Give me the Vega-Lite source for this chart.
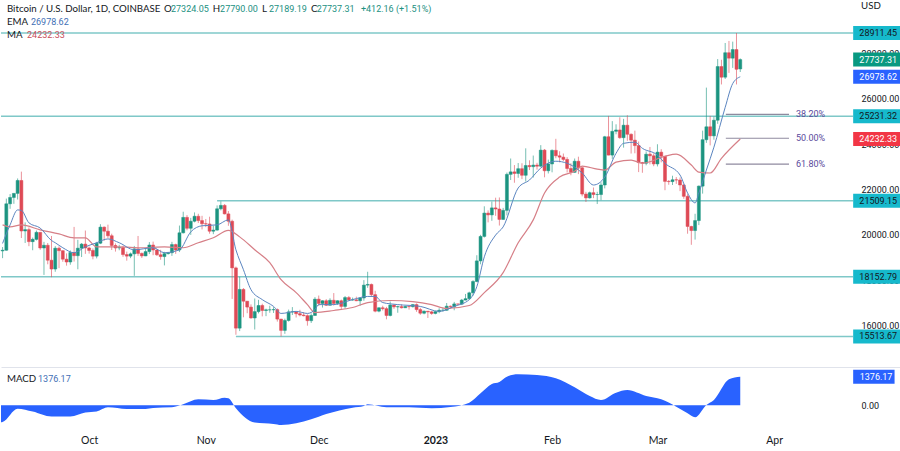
{
"$schema":"https://vega.github.io/schema/vega-lite/v6.json",
"padding":0,"spacing":1,"background":"white",
"config":{"font":"Lato","view":{"stroke":null}},
"datasets":{
"candles":[
{"date":"2022-09-08","o":19290,"h":19460,"l":18970,"c":19320},{"date":"2022-09-09","o":19320,"h":21600,"l":19300,"c":21370},{"date":"2022-09-10","o":21370,"h":21800,"l":21150,"c":21650},{"date":"2022-09-11","o":21650,"h":21830,"l":21370,"c":21830},{"date":"2022-09-12","o":21830,"h":22490,"l":21560,"c":22400},{"date":"2022-09-13","o":22400,"h":22790,"l":19860,"c":20170},{"date":"2022-09-14","o":20170,"h":20550,"l":19640,"c":20230},{"date":"2022-09-15","o":20230,"h":20330,"l":19500,"c":19700},{"date":"2022-09-16","o":19700,"h":19880,"l":19320,"c":19800},{"date":"2022-09-17","o":19800,"h":20190,"l":19750,"c":20110},{"date":"2022-09-18","o":20110,"h":20110,"l":19340,"c":19420},{"date":"2022-09-19","o":19420,"h":19690,"l":18230,"c":19540},{"date":"2022-09-20","o":19540,"h":19640,"l":18700,"c":18880},{"date":"2022-09-21","o":18880,"h":19950,"l":18130,"c":18490},{"date":"2022-09-22","o":18490,"h":19500,"l":18370,"c":19410},{"date":"2022-09-23","o":19410,"h":19490,"l":18530,"c":19300},{"date":"2022-09-24","o":19300,"h":19310,"l":18810,"c":18925},{"date":"2022-09-25","o":18925,"h":19180,"l":18640,"c":18800},{"date":"2022-09-26","o":18800,"h":19310,"l":18680,"c":19220},{"date":"2022-09-27","o":19220,"h":20350,"l":18820,"c":19080},{"date":"2022-09-28","o":19080,"h":19780,"l":18480,"c":19410},{"date":"2022-09-29","o":19410,"h":19640,"l":19020,"c":19590},{"date":"2022-09-30","o":19590,"h":20190,"l":19160,"c":19420},
{"date":"2022-10-01","o":19420,"h":19480,"l":19170,"c":19310},{"date":"2022-10-02","o":19310,"h":19400,"l":18920,"c":19060},{"date":"2022-10-03","o":19060,"h":19690,"l":18960,"c":19630},{"date":"2022-10-04","o":19630,"h":20470,"l":19590,"c":20340},{"date":"2022-10-05","o":20340,"h":20370,"l":19740,"c":20160},{"date":"2022-10-06","o":20160,"h":20450,"l":19860,"c":19960},{"date":"2022-10-07","o":19960,"h":20050,"l":19330,"c":19530},{"date":"2022-10-08","o":19530,"h":19620,"l":19260,"c":19420},{"date":"2022-10-09","o":19420,"h":19560,"l":19320,"c":19440},{"date":"2022-10-10","o":19440,"h":19520,"l":19030,"c":19130},{"date":"2022-10-11","o":19130,"h":19260,"l":18860,"c":19060},{"date":"2022-10-12","o":19060,"h":19220,"l":18970,"c":19160},{"date":"2022-10-13","o":19160,"h":19510,"l":18190,"c":19380},{"date":"2022-10-14","o":19380,"h":19950,"l":19070,"c":19180},{"date":"2022-10-15","o":19180,"h":19220,"l":18980,"c":19070},{"date":"2022-10-16","o":19070,"h":19420,"l":19060,"c":19260},{"date":"2022-10-17","o":19260,"h":19680,"l":19150,"c":19550},{"date":"2022-10-18","o":19550,"h":19700,"l":19100,"c":19330},{"date":"2022-10-19","o":19330,"h":19360,"l":19070,"c":19120},{"date":"2022-10-20","o":19120,"h":19340,"l":18900,"c":19040},{"date":"2022-10-21","o":19040,"h":19250,"l":18650,"c":19170},{"date":"2022-10-22","o":19170,"h":19250,"l":19130,"c":19210},{"date":"2022-10-23","o":19210,"h":19690,"l":19070,"c":19570},{"date":"2022-10-24","o":19570,"h":19610,"l":19160,"c":19330},{"date":"2022-10-25","o":19330,"h":20410,"l":19240,"c":20090},{"date":"2022-10-26","o":20090,"h":21020,"l":20060,"c":20770},{"date":"2022-10-27","o":20770,"h":20870,"l":20200,"c":20290},{"date":"2022-10-28","o":20290,"h":20750,"l":20000,"c":20600},{"date":"2022-10-29","o":20600,"h":20990,"l":20550,"c":20820},{"date":"2022-10-30","o":20820,"h":20930,"l":20520,"c":20630},{"date":"2022-10-31","o":20630,"h":20840,"l":20240,"c":20490},
{"date":"2022-11-01","o":20490,"h":20700,"l":20340,"c":20480},{"date":"2022-11-02","o":20480,"h":20800,"l":20050,"c":20160},{"date":"2022-11-03","o":20160,"h":20400,"l":20030,"c":20210},{"date":"2022-11-04","o":20210,"h":21300,"l":20180,"c":21150},{"date":"2022-11-05","o":21150,"h":21480,"l":21080,"c":21300},{"date":"2022-11-06","o":21300,"h":21360,"l":20900,"c":20925},{"date":"2022-11-07","o":20925,"h":21050,"l":20400,"c":20600},{"date":"2022-11-08","o":20600,"h":20670,"l":17170,"c":18540},{"date":"2022-11-09","o":18540,"h":18600,"l":15590,"c":15880},{"date":"2022-11-10","o":15880,"h":18150,"l":15750,"c":17590},{"date":"2022-11-11","o":17590,"h":17650,"l":16360,"c":17070},{"date":"2022-11-12","o":17070,"h":17070,"l":16540,"c":16810},{"date":"2022-11-13","o":16810,"h":16930,"l":16300,"c":16330},{"date":"2022-11-14","o":16330,"h":17190,"l":15820,"c":16610},{"date":"2022-11-15","o":16610,"h":17130,"l":16530,"c":16880},{"date":"2022-11-16","o":16880,"h":16960,"l":16400,"c":16660},{"date":"2022-11-17","o":16660,"h":16740,"l":16410,"c":16690},{"date":"2022-11-18","o":16690,"h":16870,"l":16560,"c":16690},{"date":"2022-11-19","o":16690,"h":16810,"l":16550,"c":16700},{"date":"2022-11-20","o":16700,"h":16750,"l":16170,"c":16280},{"date":"2022-11-21","o":16280,"h":16290,"l":15514,"c":15780},{"date":"2022-11-22","o":15780,"h":16300,"l":15630,"c":16220},{"date":"2022-11-23","o":16220,"h":16700,"l":16170,"c":16600},{"date":"2022-11-24","o":16600,"h":16810,"l":16460,"c":16600},{"date":"2022-11-25","o":16600,"h":16600,"l":16350,"c":16520},{"date":"2022-11-26","o":16520,"h":16690,"l":16400,"c":16460},{"date":"2022-11-27","o":16460,"h":16590,"l":16400,"c":16430},{"date":"2022-11-28","o":16430,"h":16490,"l":15990,"c":16210},{"date":"2022-11-29","o":16210,"h":16530,"l":16110,"c":16440},{"date":"2022-11-30","o":16440,"h":17250,"l":16430,"c":17160},
{"date":"2022-12-01","o":17160,"h":17320,"l":16860,"c":16970},{"date":"2022-12-02","o":16970,"h":17110,"l":16790,"c":17090},{"date":"2022-12-03","o":17090,"h":17160,"l":16860,"c":16890},{"date":"2022-12-04","o":16890,"h":17200,"l":16880,"c":17110},{"date":"2022-12-05","o":17110,"h":17430,"l":16880,"c":16970},{"date":"2022-12-06","o":16970,"h":17110,"l":16910,"c":17090},{"date":"2022-12-07","o":17090,"h":17140,"l":16680,"c":16840},{"date":"2022-12-08","o":16840,"h":17300,"l":16740,"c":17230},{"date":"2022-12-09","o":17230,"h":17300,"l":17100,"c":17130},{"date":"2022-12-10","o":17130,"h":17230,"l":17090,"c":17130},{"date":"2022-12-11","o":17130,"h":17270,"l":17070,"c":17090},{"date":"2022-12-12","o":17090,"h":17240,"l":16870,"c":17210},{"date":"2022-12-13","o":17210,"h":18000,"l":17090,"c":17780},{"date":"2022-12-14","o":17780,"h":18370,"l":17660,"c":17810},{"date":"2022-12-15","o":17810,"h":17850,"l":17280,"c":17360},{"date":"2022-12-16","o":17360,"h":17530,"l":16580,"c":16630},{"date":"2022-12-17","o":16630,"h":16800,"l":16580,"c":16780},{"date":"2022-12-18","o":16780,"h":16870,"l":16660,"c":16740},{"date":"2022-12-19","o":16740,"h":16820,"l":16270,"c":16440},{"date":"2022-12-20","o":16440,"h":17060,"l":16400,"c":16900},{"date":"2022-12-21","o":16900,"h":16910,"l":16730,"c":16820},{"date":"2022-12-22","o":16820,"h":16870,"l":16560,"c":16830},{"date":"2022-12-23","o":16830,"h":16930,"l":16750,"c":16780},{"date":"2022-12-24","o":16780,"h":16860,"l":16770,"c":16840},{"date":"2022-12-25","o":16840,"h":16860,"l":16700,"c":16830},{"date":"2022-12-26","o":16830,"h":16940,"l":16790,"c":16920},{"date":"2022-12-27","o":16920,"h":16970,"l":16600,"c":16700},{"date":"2022-12-28","o":16700,"h":16780,"l":16470,"c":16540},{"date":"2022-12-29","o":16540,"h":16660,"l":16490,"c":16630},{"date":"2022-12-30","o":16630,"h":16630,"l":16330,"c":16600},{"date":"2022-12-31","o":16600,"h":16640,"l":16470,"c":16530},
{"date":"2023-01-01","o":16530,"h":16630,"l":16490,"c":16610},{"date":"2023-01-02","o":16610,"h":16760,"l":16540,"c":16670},{"date":"2023-01-03","o":16670,"h":16770,"l":16610,"c":16670},{"date":"2023-01-04","o":16670,"h":16990,"l":16650,"c":16850},{"date":"2023-01-05","o":16850,"h":16880,"l":16750,"c":16830},{"date":"2023-01-06","o":16830,"h":17040,"l":16670,"c":16950},{"date":"2023-01-07","o":16950,"h":16950,"l":16910,"c":16940},{"date":"2023-01-08","o":16940,"h":17170,"l":16910,"c":17120},{"date":"2023-01-09","o":17120,"h":17390,"l":17110,"c":17180},{"date":"2023-01-10","o":17180,"h":17490,"l":17140,"c":17440},{"date":"2023-01-11","o":17440,"h":18000,"l":17320,"c":17940},{"date":"2023-01-12","o":17940,"h":19100,"l":17910,"c":18850},{"date":"2023-01-13","o":18850,"h":20000,"l":18700,"c":19930},{"date":"2023-01-14","o":19930,"h":21260,"l":19880,"c":20960},{"date":"2023-01-15","o":20960,"h":21080,"l":20550,"c":20880},{"date":"2023-01-16","o":20880,"h":21470,"l":20620,"c":21190},{"date":"2023-01-17","o":21190,"h":21640,"l":20840,"c":21140},{"date":"2023-01-18","o":21140,"h":21650,"l":20410,"c":20680},{"date":"2023-01-19","o":20680,"h":21190,"l":20660,"c":21080},{"date":"2023-01-20","o":21080,"h":22750,"l":20860,"c":22670},{"date":"2023-01-21","o":22670,"h":23370,"l":22420,"c":22780},{"date":"2023-01-22","o":22780,"h":23080,"l":22300,"c":22710},{"date":"2023-01-23","o":22710,"h":23170,"l":22520,"c":22920},{"date":"2023-01-24","o":22920,"h":23160,"l":22460,"c":22630},{"date":"2023-01-25","o":22630,"h":23820,"l":22350,"c":23060},{"date":"2023-01-26","o":23060,"h":23290,"l":22860,"c":23010},{"date":"2023-01-27","o":23010,"h":23500,"l":22530,"c":23080},{"date":"2023-01-28","o":23080,"h":23180,"l":22880,"c":23030},{"date":"2023-01-29","o":23030,"h":23960,"l":23000,"c":23740},{"date":"2023-01-30","o":23740,"h":23790,"l":22540,"c":22830},{"date":"2023-01-31","o":22830,"h":23320,"l":22710,"c":23130},
{"date":"2023-02-01","o":23130,"h":23770,"l":22760,"c":23730},{"date":"2023-02-02","o":23730,"h":24240,"l":23380,"c":23490},{"date":"2023-02-03","o":23490,"h":23690,"l":23200,"c":23430},{"date":"2023-02-04","o":23430,"h":23590,"l":23260,"c":23330},{"date":"2023-02-05","o":23330,"h":23430,"l":22750,"c":22930},{"date":"2023-02-06","o":22930,"h":23160,"l":22630,"c":22760},{"date":"2023-02-07","o":22760,"h":23370,"l":22740,"c":23250},{"date":"2023-02-08","o":23250,"h":23450,"l":22680,"c":22960},{"date":"2023-02-09","o":22960,"h":23010,"l":21700,"c":21800},{"date":"2023-02-10","o":21800,"h":21900,"l":21450,"c":21630},{"date":"2023-02-11","o":21630,"h":21910,"l":21600,"c":21860},{"date":"2023-02-12","o":21860,"h":22090,"l":21620,"c":21780},{"date":"2023-02-13","o":21780,"h":21900,"l":21360,"c":21780},{"date":"2023-02-14","o":21780,"h":22320,"l":21530,"c":22200},{"date":"2023-02-15","o":22200,"h":24370,"l":22050,"c":24330},{"date":"2023-02-16","o":24330,"h":25250,"l":23510,"c":23520},{"date":"2023-02-17","o":23520,"h":25020,"l":23350,"c":24570},{"date":"2023-02-18","o":24570,"h":24880,"l":24440,"c":24630},{"date":"2023-02-19","o":24630,"h":25190,"l":24240,"c":24290},{"date":"2023-02-20","o":24290,"h":25120,"l":23850,"c":24840},{"date":"2023-02-21","o":24840,"h":25280,"l":24150,"c":24440},{"date":"2023-02-22","o":24440,"h":24480,"l":23590,"c":24180},{"date":"2023-02-23","o":24180,"h":24600,"l":23600,"c":23940},{"date":"2023-02-24","o":23940,"h":24120,"l":22770,"c":23190},{"date":"2023-02-25","o":23190,"h":23220,"l":22740,"c":23160},{"date":"2023-02-26","o":23160,"h":23680,"l":23070,"c":23560},{"date":"2023-02-27","o":23560,"h":23880,"l":23110,"c":23490},{"date":"2023-02-28","o":23490,"h":23600,"l":23030,"c":23130},
{"date":"2023-03-01","o":23130,"h":24000,"l":23020,"c":23650},{"date":"2023-03-02","o":23650,"h":23780,"l":23200,"c":23470},{"date":"2023-03-03","o":23470,"h":23480,"l":21970,"c":22360},{"date":"2023-03-04","o":22360,"h":22420,"l":22210,"c":22350},{"date":"2023-03-05","o":22350,"h":22610,"l":22200,"c":22430},{"date":"2023-03-06","o":22430,"h":22550,"l":22250,"c":22420},{"date":"2023-03-07","o":22420,"h":22530,"l":21930,"c":22200},{"date":"2023-03-08","o":22200,"h":22260,"l":21590,"c":21700},{"date":"2023-03-09","o":21700,"h":21800,"l":20050,"c":20370},{"date":"2023-03-10","o":20370,"h":20400,"l":19560,"c":20190},{"date":"2023-03-11","o":20190,"h":20930,"l":19790,"c":20630},{"date":"2023-03-12","o":20630,"h":22180,"l":20430,"c":22150},{"date":"2023-03-13","o":22150,"h":24600,"l":21820,"c":24200},{"date":"2023-03-14","o":24200,"h":26500,"l":24060,"c":24770},{"date":"2023-03-15","o":24770,"h":25250,"l":23950,"c":24370},{"date":"2023-03-16","o":24370,"h":25220,"l":24200,"c":25060},{"date":"2023-03-17","o":25060,"h":27760,"l":24900,"c":27430},{"date":"2023-03-18","o":27430,"h":27730,"l":26640,"c":26960},{"date":"2023-03-19","o":26960,"h":28470,"l":26880,"c":28040},{"date":"2023-03-20","o":28040,"h":28560,"l":27150,"c":27800},{"date":"2023-03-21","o":27800,"h":28530,"l":27370,"c":28180},{"date":"2023-03-22","o":28180,"h":28911,"l":26640,"c":27310},{"date":"2023-03-23","o":27324,"h":27790,"l":27189,"c":27737}
],
"ema":[
{"date":"2022-09-08","v":19620},{"date":"2022-09-10","v":20440},{"date":"2022-09-12","v":21100},{"date":"2022-09-13","v":21080},{"date":"2022-09-15","v":20530},{"date":"2022-09-18","v":20300},{"date":"2022-09-21","v":19750},{"date":"2022-09-22","v":19650},{"date":"2022-09-24","v":19430},{"date":"2022-09-27","v":19210},{"date":"2022-09-30","v":19470},{"date":"2022-10-03","v":19650},{"date":"2022-10-06","v":19820},{"date":"2022-10-09","v":19650},{"date":"2022-10-13","v":19340},{"date":"2022-10-18","v":19430},{"date":"2022-10-21","v":19210},{"date":"2022-10-25","v":19340},{"date":"2022-10-28","v":20130},{"date":"2022-10-31","v":20400},{"date":"2022-11-04","v":20440},{"date":"2022-11-07","v":20660},{"date":"2022-11-09","v":19340},{"date":"2022-11-11","v":18460},{"date":"2022-11-13","v":17580},{"date":"2022-11-16","v":17140},{"date":"2022-11-19","v":16840},{"date":"2022-11-21","v":16530},{"date":"2022-11-25","v":16620},{"date":"2022-11-28","v":16530},{"date":"2022-11-30","v":16700},{"date":"2022-12-01","v":16920},{"date":"2022-12-05","v":16920},{"date":"2022-12-10","v":17140},{"date":"2022-12-14","v":17280},{"date":"2022-12-16","v":17280},{"date":"2022-12-18","v":17010},{"date":"2022-12-22","v":16920},{"date":"2022-12-28","v":16840},{"date":"2023-01-02","v":16620},{"date":"2023-01-06","v":16840},{"date":"2023-01-10","v":17140},{"date":"2023-01-12","v":17710},{"date":"2023-01-14","v":19030},{"date":"2023-01-17","v":19990},{"date":"2023-01-19","v":20350},{"date":"2023-01-23","v":22070},{"date":"2023-01-26","v":22420},{"date":"2023-01-29","v":22950},{"date":"2023-02-02","v":23250},{"date":"2023-02-05","v":23160},{"date":"2023-02-09","v":22730},{"date":"2023-02-12","v":22200},{"date":"2023-02-15","v":22550},{"date":"2023-02-18","v":23600},{"date":"2023-02-20","v":24040},{"date":"2023-02-23","v":24090},{"date":"2023-02-25","v":23820},{"date":"2023-03-01","v":23520},{"date":"2023-03-03","v":23160},{"date":"2023-03-07","v":22640},{"date":"2023-03-09","v":21850},{"date":"2023-03-11","v":21410},{"date":"2023-03-12","v":21850},{"date":"2023-03-14","v":22860},{"date":"2023-03-16","v":23870},{"date":"2023-03-19","v":25630},{"date":"2023-03-21","v":26680},{"date":"2023-03-23","v":26978.62}
],
"ma":[
{"date":"2022-09-08","v":20440},{"date":"2022-09-10","v":20350},{"date":"2022-09-13","v":20440},{"date":"2022-09-18","v":20220},{"date":"2022-09-23","v":20040},{"date":"2022-09-27","v":19870},{"date":"2022-09-30","v":19870},{"date":"2022-10-03","v":19470},{"date":"2022-10-09","v":19470},{"date":"2022-10-15","v":19430},{"date":"2022-10-21","v":19470},{"date":"2022-10-26","v":19430},{"date":"2022-10-30","v":19650},{"date":"2022-11-03","v":19870},{"date":"2022-11-07","v":20200},{"date":"2022-11-10","v":19910},{"date":"2022-11-14","v":19340},{"date":"2022-11-18","v":18770},{"date":"2022-11-21","v":18020},{"date":"2022-11-25","v":17450},{"date":"2022-11-28","v":16920},{"date":"2022-11-30","v":16570},{"date":"2022-12-05","v":16660},{"date":"2022-12-10","v":16790},{"date":"2022-12-14","v":17010},{"date":"2022-12-20","v":17100},{"date":"2022-12-26","v":17050},{"date":"2022-12-31","v":16920},{"date":"2023-01-04","v":16750},{"date":"2023-01-10","v":16880},{"date":"2023-01-14","v":17450},{"date":"2023-01-19","v":18330},{"date":"2023-01-23","v":19650},{"date":"2023-01-27","v":20660},{"date":"2023-01-30","v":21850},{"date":"2023-02-03","v":22550},{"date":"2023-02-07","v":22810},{"date":"2023-02-09","v":23030},{"date":"2023-02-13","v":22900},{"date":"2023-02-15","v":22860},{"date":"2023-02-18","v":23210},{"date":"2023-02-22","v":23300},{"date":"2023-02-25","v":23160},{"date":"2023-03-03","v":23470},{"date":"2023-03-06","v":23560},{"date":"2023-03-10","v":23080},{"date":"2023-03-12","v":22770},{"date":"2023-03-15","v":22730},{"date":"2023-03-18","v":23380},{"date":"2023-03-23","v":24232.33}
],
"macd":[
{"date":"2022-09-07T14:00Z","v":-816},{"date":"2022-09-08","v":-800},{"date":"2022-09-12","v":-160},{"date":"2022-09-16","v":-300},{"date":"2022-09-21","v":-540},{"date":"2022-09-26","v":-540},{"date":"2022-09-30","v":-350},{"date":"2022-10-03","v":-300},{"date":"2022-10-06","v":-96},{"date":"2022-10-11","v":-176},{"date":"2022-10-16","v":-176},{"date":"2022-10-18","v":-128},{"date":"2022-10-23","v":-96},{"date":"2022-10-26","v":48},{"date":"2022-10-30","v":288},{"date":"2022-11-03","v":256},{"date":"2022-11-06","v":368},{"date":"2022-11-07","v":336},{"date":"2022-11-09","v":-144},{"date":"2022-11-14","v":-832},{"date":"2022-11-19","v":-896},{"date":"2022-11-21","v":-944},{"date":"2022-11-29","v":-672},{"date":"2022-12-03","v":-416},{"date":"2022-12-10","v":-112},{"date":"2022-12-13","v":-32},{"date":"2022-12-14","v":48},{"date":"2022-12-19","v":-96},{"date":"2022-12-25","v":-96},{"date":"2022-12-31","v":-144},{"date":"2023-01-05","v":-80},{"date":"2023-01-10","v":128},{"date":"2023-01-13","v":576},{"date":"2023-01-16","v":1024},{"date":"2023-01-18","v":1120},{"date":"2023-01-20","v":1376},{"date":"2023-01-23","v":1488},{"date":"2023-01-28","v":1456},{"date":"2023-02-02","v":1296},{"date":"2023-02-07","v":864},{"date":"2023-02-11","v":448},{"date":"2023-02-14","v":256},{"date":"2023-02-18","v":608},{"date":"2023-02-21","v":736},{"date":"2023-02-26","v":448},{"date":"2023-03-02","v":288},{"date":"2023-03-06","v":-64},{"date":"2023-03-09","v":-384},{"date":"2023-03-11","v":-576},{"date":"2023-03-14","v":16},{"date":"2023-03-16","v":256},{"date":"2023-03-20","v":1248},{"date":"2023-03-23","v":1376.17}
],
"levels":[
{"date":"2022-09-07T14:00Z","end":"2023-04-22","price":28911.45},{"date":"2022-09-07T14:00Z","end":"2023-04-22","price":25231.32},{"date":"2022-11-04","end":"2023-04-22","price":21509.15},{"date":"2022-09-07T14:00Z","end":"2023-04-22","price":18152.79},{"date":"2022-11-09","end":"2023-04-22","price":15513.67}
],
"fibs":[
{"date":"2023-03-19T04:00Z","end":"2023-04-04T23:00Z","price":25319},{"date":"2023-03-19T04:00Z","end":"2023-04-04T23:00Z","price":24264},{"date":"2023-03-19T04:00Z","end":"2023-04-04T23:00Z","price":23121}
],
"tags":[
{"date":"2023-04-22","end":"2023-05-05","price":28911.45,"kind":"teal","ink":"dark","labelDate":"2023-04-28T16:00Z","label":"28911.45"},{"date":"2023-04-22","end":"2023-05-05","price":27737.31,"kind":"green","ink":"white","labelDate":"2023-04-28T16:00Z","label":"27737.31"},{"date":"2023-04-22","end":"2023-05-05","price":26978.62,"kind":"blue","ink":"white","labelDate":"2023-04-28T16:00Z","label":"26978.62"},{"date":"2023-04-22","end":"2023-05-05","price":25231.32,"kind":"teal","ink":"dark","labelDate":"2023-04-28T16:00Z","label":"25231.32"},{"date":"2023-04-22","end":"2023-05-05","price":24232.33,"kind":"red","ink":"white","labelDate":"2023-04-28T16:00Z","label":"24232.33"},{"date":"2023-04-22","end":"2023-05-05","price":21509.15,"kind":"teal","ink":"dark","labelDate":"2023-04-28T16:00Z","label":"21509.15"},{"date":"2023-04-22","end":"2023-05-05","price":18152.79,"kind":"teal","ink":"dark","labelDate":"2023-04-28T16:00Z","label":"18152.79"},{"date":"2023-04-22","end":"2023-05-05","price":15513.67,"kind":"teal","ink":"dark","labelDate":"2023-04-28T16:00Z","label":"15513.67"}
],
"labels":[
{"date":"2022-09-09T04:00Z","price":29978,"kind":"dark","label":"Bitcoin / U.S. Dollar, 1D, COINBASE"},
{"date":"2022-10-20T21:00Z","price":29978,"kind":"dark","label":"O"},{"date":"2022-10-22T18:00Z","price":29978,"kind":"value","label":"27324.05"},
{"date":"2022-11-02T21:00Z","price":29978,"kind":"dark","label":"H"},{"date":"2022-11-04T19:00Z","price":29978,"kind":"value","label":"27790.00"},
{"date":"2022-11-15T22:00Z","price":29978,"kind":"dark","label":"L"},{"date":"2022-11-17T19:00Z","price":29978,"kind":"value","label":"27189.19"},
{"date":"2022-11-28T23:00Z","price":29978,"kind":"dark","label":"C"},{"date":"2022-11-30T12:00Z","price":29978,"kind":"value","label":"27737.31"},
{"date":"2022-12-12T05:00Z","price":29978,"kind":"value","label":"+412.16 (+1.51%)"},
{"date":"2022-09-09T04:00Z","price":29407,"kind":"dark","label":"EMA"},{"date":"2022-09-15T13:00Z","price":29407,"kind":"blueText","label":"26978.62"},
{"date":"2022-09-09T04:00Z","price":28835,"kind":"dark","label":"MA"},{"date":"2022-09-14T12:00Z","price":28835,"kind":"redText","label":"24232.33"},
{"date":"2023-04-24T02:00Z","price":30090,"kind":"dark","label":"USD"},
{"date":"2023-04-06T19:00Z","price":25319,"kind":"purple","label":"38.20%"},{"date":"2023-04-06T19:00Z","price":24264,"kind":"purple","label":"50.00%"},{"date":"2023-04-06T19:00Z","price":23121,"kind":"purple","label":"61.80%"}
],
"macdLabels":[
{"date":"2022-09-09T04:00Z","v":1246,"kind":"dark","label":"MACD"},{"date":"2022-09-17T10:00Z","v":1246,"kind":"blueText","label":"1376.17"}
],
"macdTag":[
{"date":"2023-04-22","end":"2023-05-03","v":1376.17,"labelDate":"2023-04-28T02:00Z","label":"1376.17"}
]
},
"vconcat":[
{"width":900,"height":367,
"encoding":{"x":{"field":"date","type":"temporal","title":null,
"scale":{"type":"utc","nice":false,"padding":0,"domain":[{"year":2022,"month":9,"date":7,"hours":14,"utc":true},{"year":2023,"month":5,"date":4,"hours":17,"utc":true}]},
"axis":{"labels":false,"ticks":false,"grid":false,"title":null,"domain":true,"domainColor":"#e0e3eb"}}},
"layer":[
{"data":{"name":"levels"},"mark":{"type":"rule","color":"#7fc8c8","strokeWidth":1.5},
"encoding":{"x2":{"field":"end"},"y":{"field":"price","type":"quantitative","title":null,
"scale":{"domain":[14165,30368],"nice":false,"zero":false},
"axis":{"orient":"right","offset":-40,"values":[16000,18000,20000,22000,24000,26000,28000],"labelExpr":"format(datum.value,'.2f')","labelOverlap":false,"labelFlush":false,"grid":false,"domain":false,"ticks":false,"title":null,"labelPadding":0,"labelAlign":"left","labelColor":"#131722","labelFontSize":9,"labelFont":"Roboto"}}}},
{"data":{"name":"candles"},"mark":{"type":"rule","strokeWidth":1,"opacity":0.6},
"encoding":{"y":{"field":"l","type":"quantitative"},"y2":{"field":"h"},
"color":{"condition":{"test":"datum.c>=datum.o","value":"#1c9480"},"value":"#de4a56"}}},
{"data":{"name":"candles"},"mark":{"type":"bar","size":3,"strokeWidth":0.5},
"encoding":{"y":{"field":"o","type":"quantitative"},"y2":{"field":"c"},
"color":{"condition":{"test":"datum.c>=datum.o","value":"#1c9480"},"value":"#de4a56"},
"stroke":{"condition":{"test":"datum.c>=datum.o","value":"#1c9480"},"value":"#de4a56"}}},
{"data":{"name":"ma"},"mark":{"type":"line","color":"#d67f87","strokeWidth":1.2,"interpolate":"monotone"},
"encoding":{"y":{"field":"v","type":"quantitative"}}},
{"data":{"name":"ema"},"mark":{"type":"line","color":"#5b85c0","strokeWidth":1,"interpolate":"monotone"},
"encoding":{"y":{"field":"v","type":"quantitative"}}},
{"data":{"name":"fibs"},"mark":{"type":"rule","color":"#8f8a9f","strokeWidth":1.2},
"encoding":{"x2":{"field":"end"},"y":{"field":"price","type":"quantitative"}}},
{"data":{"name":"tags"},"mark":{"type":"rule","strokeWidth":14},
"encoding":{"x2":{"field":"end"},"y":{"field":"price","type":"quantitative"},
"color":{"field":"kind","legend":null,"scale":{"domain":["teal","green","blue","red"],"range":["#16b9cc","#089981","#2962ff","#f23645"]}}}},
{"data":{"name":"tags"},"mark":{"type":"text","align":"center","baseline":"middle","fontSize":9,"font":"Roboto"},
"encoding":{"x":{"field":"labelDate","type":"temporal"},"y":{"field":"price","type":"quantitative"},"text":{"field":"label"},
"fill":{"field":"ink","legend":null,"scale":{"domain":["dark","white","value","blueText","redText","purple"],"range":["#131722","#ffffff","#22907f","#3f6fb5","#c8505c","#5a4a9c"]}}}},
{"data":{"name":"labels"},"transform":[{"filter":"datum.kind!='dark'"}],"mark":{"type":"text","align":"left","baseline":"middle","fontSize":9,"font":"Roboto"},
"encoding":{"y":{"field":"price","type":"quantitative"},"text":{"field":"label"},
"fill":{"field":"kind","legend":null,"scale":{"domain":["dark","white","value","blueText","redText","purple"],"range":["#131722","#ffffff","#22907f","#3f6fb5","#c8505c","#5a4a9c"]}}}},
{"data":{"name":"labels"},"transform":[{"filter":"datum.kind=='dark'"}],"mark":{"type":"text","align":"left","baseline":"middle","fontSize":9.7,"font":"Lato"},
"encoding":{"y":{"field":"price","type":"quantitative"},"text":{"field":"label"},
"fill":{"field":"kind","legend":null,"scale":{"domain":["dark","white","value","blueText","redText","purple"],"range":["#131722","#ffffff","#22907f","#3f6fb5","#c8505c","#5a4a9c"]}}}}
]},
{"width":900,"height":62,
"encoding":{"x":{"field":"date","type":"temporal","title":null,
"scale":{"type":"utc","nice":false,"domain":[{"year":2022,"month":9,"date":7,"hours":14,"utc":true},{"year":2023,"month":5,"date":4,"hours":17,"utc":true}]},
"axis":{"values":[{"year":2022,"month":10,"date":1,"utc":true},{"year":2022,"month":11,"date":1,"utc":true},{"year":2022,"month":12,"date":1,"utc":true},{"year":2023,"month":1,"date":1,"utc":true},{"year":2023,"month":2,"date":1,"utc":true},{"year":2023,"month":3,"date":1,"utc":true},{"year":2023,"month":4,"date":1,"utc":true}],
"labelExpr":"utcmonth(datum.value)==0 ? '2023' : utcFormat(datum.value,'%b')",
"labelFontWeight":{"condition":{"test":"utcmonth(datum.value)==0","value":"bold"},"value":"normal"},
"grid":false,"ticks":false,"domain":false,"title":null,"labelPadding":5,"labelColor":"#131722","labelFontSize":10.5,"labelFont":"Lato","labelFlush":false}}},
"layer":[
{"data":{"name":"macd"},"mark":{"type":"area","color":"#2962ff","opacity":1,"interpolate":"monotone"},
"encoding":{"y":{"field":"v","type":"quantitative","title":null,
"scale":{"domain":[-1187,1793],"nice":false,"zero":false},
"axis":{"orient":"right","offset":-40,"values":[0],"labelExpr":"format(datum.value,'.2f')","labelOverlap":false,"labelFlush":false,"grid":false,"domain":false,"ticks":false,"title":null,"labelPadding":0,"labelAlign":"left","labelColor":"#131722","labelFontSize":9,"labelFont":"Roboto"}},
"y2":{"datum":0}}},
{"data":{"name":"macdTag"},"mark":{"type":"rule","color":"#2962ff","strokeWidth":14},
"encoding":{"x2":{"field":"end"},"y":{"field":"v","type":"quantitative"}}},
{"data":{"name":"macdTag"},"mark":{"type":"text","color":"#ffffff","align":"center","baseline":"middle","fontSize":9,"font":"Roboto"},
"encoding":{"x":{"field":"labelDate","type":"temporal"},"y":{"field":"v","type":"quantitative"},"text":{"field":"label"}}},
{"data":{"name":"macdLabels"},"transform":[{"filter":"datum.kind=='dark'"}],"mark":{"type":"text","align":"left","baseline":"middle","fontSize":9.7,"font":"Lato","color":"#131722"},
"encoding":{"y":{"field":"v","type":"quantitative"},"text":{"field":"label"}}},
{"data":{"name":"macdLabels"},"transform":[{"filter":"datum.kind!='dark'"}],"mark":{"type":"text","align":"left","baseline":"middle","fontSize":9,"font":"Roboto","color":"#3f6fb5"},
"encoding":{"y":{"field":"v","type":"quantitative"},"text":{"field":"label"}}}
]}
]
}
